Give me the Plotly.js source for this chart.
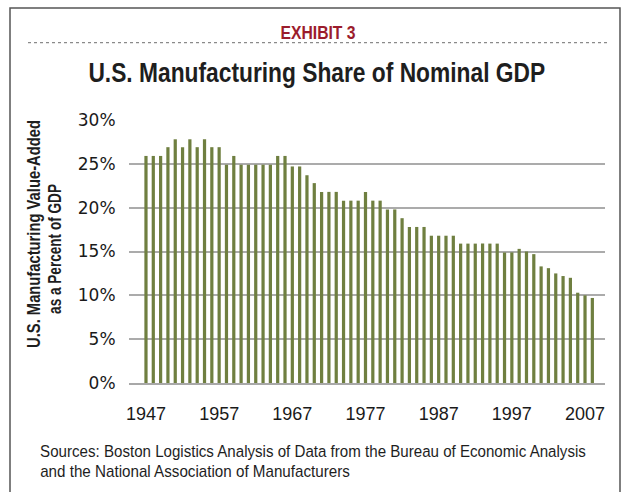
<!DOCTYPE html>
<html>
<head>
<meta charset="utf-8">
<script src="https://cdn.plot.ly/plotly-3.0.1.min.js"></script>
<style>
html,body{margin:0;padding:0;background:#fff;}
#chart{width:629px;height:492px;}
</style>
</head>
<body>
<div id="chart"></div>
<script>
// ---- data ----
const years = [1947,1948,1949,1950,1951,1952,1953,1954,1955,1956,1957,1958,1959,1960,1961,1962,1963,1964,1965,1966,1967,1968,1969,1970,1971,1972,1973,1974,1975,1976,1977,1978,1979,1980,1981,1982,1983,1984,1985,1986,1987,1988,1989,1990,1991,1992,1993,1994,1995,1996,1997,1998,1999,2000,2001,2002,2003,2004,2005,2006,2007,2008];
const sharePct = [25.9,25.9,25.9,26.9,27.8,26.9,27.8,26.9,27.8,26.9,26.9,24.9,25.9,24.9,24.9,24.9,24.9,24.9,25.9,25.9,24.7,24.7,23.7,22.8,21.8,21.8,21.8,20.8,20.8,20.8,21.8,20.8,20.8,19.8,19.8,18.8,17.8,17.8,17.8,16.8,16.8,16.8,16.8,15.9,15.9,15.9,15.9,15.9,15.9,14.9,14.9,15.3,15.0,14.7,13.3,13.1,12.5,12.2,12.0,10.3,10.0,9.7];
const xTickYears = [1947,1957,1967,1977,1987,1997,2007];
const xTickLabels = ["1947","1957","1967","1977","1987","1997","2007"];
const yTickVals = [0,5,10,15,20,25,30];
const yTickLabels = ["0%","5%","10%","15%","20%","25%","30%"];

const SANS = '"Liberation Sans", Arial, sans-serif';

// layout geometry (pixels -> paper)
const W=629,H=492, L=129, R=24, T=120, B=109;
const pw=W-L-R, ph=H-T-B;
const px=x=>(x-L)/pw, py=y=>(H-B-y)/ph;

// target text widths (px) of the condensed texts, by annotation index
const condensedWidth = {0:75, 1:457, 2:228, 3:130, 4:546, 5:310};

const data=[{
  type:'bar', x:years, y:sharePct,
  marker:{color:'#6f7f40'},
  hoverinfo:'skip'
}];

const layout={
  width:W,height:H,
  margin:{l:L,r:R,t:T,b:B,pad:0},
  paper_bgcolor:'#fff',plot_bgcolor:'#fff',
  showlegend:false,
  bargap:0.56,
  xaxis:{
    range:[1944.68,2009.73], tickmode:'array', tickvals:xTickYears, ticktext:xTickLabels,
    showgrid:false, zeroline:false, showline:true, linecolor:'#a8a8a8', linewidth:2,
    ticks:'outside', ticklen:13, tickcolor:'rgba(0,0,0,0)',
    tickfont:{family:SANS, size:18, color:'#1a1a1a'}
  },
  yaxis:{
    range:[0,30], tickmode:'array', tickvals:yTickVals, ticktext:yTickLabels,
    showgrid:true, gridcolor:'#ababab', gridwidth:2, zeroline:false, showline:false,
    ticks:'outside', ticklen:9, tickcolor:'rgba(0,0,0,0)',
    tickfont:{family:'"DejaVu Sans", sans-serif', size:17, color:'#1a1a1a'}
  },
  shapes:[
    {type:'rect', xref:'paper', yref:'paper', x0:px(10), x1:px(620), y0:py(520), y1:py(8),
     line:{color:'#555', width:1.5}, fillcolor:'rgba(0,0,0,0)', layer:'below'},
    {type:'line', xref:'paper', yref:'paper', x0:px(28), x1:px(608), y0:py(42.7), y1:py(42.7),
     line:{color:'#8a8a8a', width:1.2, dash:'dot'}}
  ],
  annotations:[
    {text:'<b>EXHIBIT 3</b>', xref:'paper', yref:'paper', x:px(318), y:py(33), xanchor:'center', yanchor:'middle',
     showarrow:false, font:{family:SANS, size:18, color:'#9b1c2c'}},
    {text:'<b>U.S. Manufacturing Share of Nominal GDP</b>', xref:'paper', yref:'paper', x:px(317), y:py(72), xanchor:'center', yanchor:'middle',
     showarrow:false, font:{family:SANS, size:28, color:'#1e1e1e'}},
    {text:'<b>U.S. Manufacturing Value-Added</b>', xref:'paper', yref:'paper', x:px(34), y:py(234), xanchor:'center', yanchor:'middle',
     textangle:-90, showarrow:false, font:{family:SANS, size:18, color:'#1e1e1e'}},
    {text:'<b>as a Percent of GDP</b>', xref:'paper', yref:'paper', x:px(55), y:py(249), xanchor:'center', yanchor:'middle',
     textangle:-90, showarrow:false, font:{family:SANS, size:18, color:'#1e1e1e'}},
    {text:'Sources: Boston Logistics Analysis of Data from the Bureau of Economic Analysis', xref:'paper', yref:'paper',
     x:px(38), y:py(451), xanchor:'left', yanchor:'middle', showarrow:false, font:{family:SANS, size:17, color:'#1e1e1e'}},
    {text:'and the National Association of Manufacturers', xref:'paper', yref:'paper',
     x:px(38), y:py(471), xanchor:'left', yanchor:'middle', showarrow:false, font:{family:SANS, size:17, color:'#1e1e1e'}}
  ]
};

function condense(){
  document.querySelectorAll('#chart g.annotation').forEach(function(g){
    const idx = +g.getAttribute('data-index');
    const target = condensedWidth[idx];
    if(!target) return;
    const t = g.querySelector('text.annotation-text');
    if(!t) return;
    const bb = t.getBBox();
    if(!bb.width) return;
    const s = target/bb.width;
    const ann = layout.annotations[idx];
    const ax = ann.xanchor==='left' ? bb.x : bb.x + bb.width/2;
    const prev = t.getAttribute('transform') || '';
    t.setAttribute('transform', 'translate('+ax+',0) scale('+s+',1) translate('+(-ax)+',0) '+prev);
  });
}

Plotly.newPlot('chart',data,layout,{displayModeBar:false,staticPlot:true}).then(condense);
</script>
</body>
</html>
